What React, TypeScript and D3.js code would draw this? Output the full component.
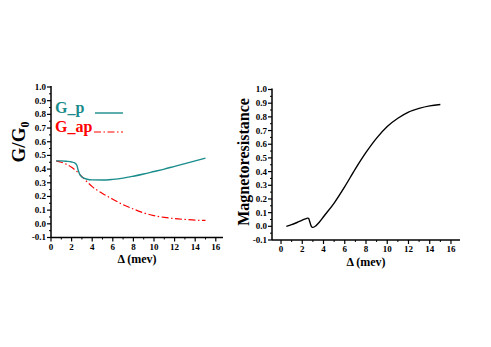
import React from "react";
import * as d3 from "d3";

const gpX = [0.5, 1, 1.5, 2, 2.3, 2.5, 2.65, 2.8, 3, 3.5, 4, 5, 6, 7, 8, 9, 10, 11, 12, 13, 14, 15];
const gpY = [0.46, 0.46, 0.457, 0.452, 0.445, 0.43, 0.39, 0.36, 0.342, 0.326, 0.321, 0.32, 0.325, 0.334, 0.348, 0.364, 0.382, 0.4, 0.42, 0.44, 0.46, 0.48];
const gapX = [0.5, 1, 1.5, 2, 2.5, 3, 3.5, 4, 5, 6, 7, 8, 9, 10, 11, 12, 13, 14, 15];
const gapY = [0.46, 0.45, 0.435, 0.413, 0.383, 0.345, 0.307, 0.272, 0.222, 0.18, 0.14, 0.108, 0.08, 0.06, 0.047, 0.038, 0.032, 0.027, 0.025];
const mrX = [0.5, 1, 1.5, 2, 2.3, 2.5, 2.6, 2.7, 2.8, 2.9, 3, 3.3, 3.6, 4, 5, 6, 7, 8, 9, 10, 11, 12, 13, 14, 15];
const mrY = [0.0, 0.012, 0.028, 0.045, 0.055, 0.06, 0.058, 0.035, 0.01, -0.005, -0.008, 0.005, 0.03, 0.07, 0.17, 0.29, 0.42, 0.54, 0.645, 0.73, 0.79, 0.835, 0.862, 0.88, 0.89];
const xTicks = [0, 2, 4, 6, 8, 10, 12, 14, 16];
const yTicks = [-0.1, 0, 0.1, 0.2, 0.3, 0.4, 0.5, 0.6, 0.7, 0.8, 0.9, 1.0];
const legendLabels = ["G_p", "G_ap"];

const FONT = "'Liberation Serif', 'Times New Roman', serif";

type PanelProps = {
  x0: number; x1: number; y0: number; y1: number; xlabOff: number;
  xDomain: [number, number];
  children: (xs: d3.ScaleLinear<number, number>, ys: d3.ScaleLinear<number, number>) => React.ReactNode;
  yLabel: React.ReactNode;
};

function Panel({ x0, x1, y0, y1, xlabOff, xDomain, children, yLabel }: PanelProps) {
  const xs = d3.scaleLinear().domain(xDomain).range([x0, x1]);
  const ys = d3.scaleLinear().domain([-0.1, 1.0]).range([y1, y0]);
  const xMinor = d3.range(Math.ceil(xDomain[0]), Math.floor(xDomain[1]) + 1).filter((v) => v % 2 !== 0);
  const yMinor = d3.range(-0.05, 1.0, 0.1);
  return (
    <g>
      <line x1={x0} x2={x0} y1={y0 - 1} y2={y1} stroke="#000" strokeWidth={1.5} />
      <line x1={x0} x2={x1} y1={y1} y2={y1} stroke="#000" strokeWidth={1.5} />
      {yTicks.map((t) => (
        <g key={"y" + t}>
          <line x1={x0 - 4} x2={x0} y1={ys(t)} y2={ys(t)} stroke="#000" strokeWidth={1.2} />
          <text x={x0 - 5} y={ys(t)} dy="0.33em" textAnchor="end" fontSize={9} fontWeight="bold" fontFamily={FONT}>
            {d3.format(".1f")(t).replace("−", "-")}
          </text>
        </g>
      ))}
      {yMinor.map((t) => (
        <line key={"ym" + t} x1={x0 - 2} x2={x0} y1={ys(t)} y2={ys(t)} stroke="#000" strokeWidth={1} />
      ))}
      {xTicks.map((t) => (
        <g key={"x" + t}>
          <line x1={xs(t)} x2={xs(t)} y1={y1} y2={y1 + 4} stroke="#000" strokeWidth={1.2} />
          <text x={xs(t)} y={y1 + 12} textAnchor="middle" fontSize={9} fontWeight="bold" fontFamily={FONT}>
            {t}
          </text>
        </g>
      ))}
      {xMinor.map((t) => (
        <line key={"xm" + t} x1={xs(t)} x2={xs(t)} y1={y1} y2={y1 + 2} stroke="#000" strokeWidth={1} />
      ))}
      <text x={(x0 + x1) / 2} y={y1 + xlabOff} textAnchor="middle" fontSize={12} fontWeight="bold" fontFamily={FONT}>
        Δ (mev)
      </text>
      {yLabel}
      {children(xs, ys)}
    </g>
  );
}

export default function App() {
  const line = (xs: any, ys: any, X: number[], Y: number[]) =>
    d3.line<number>().x((_, i) => xs(X[i])).y((_, i) => ys(Y[i])).curve(d3.curveMonotoneX)(X.map((_, i) => i)) || "";
  return (
    <svg width={491} height={347} style={{ position: "absolute", left: 0, top: 0, background: "#fff" }}>
      <Panel x0={51} x1={223} y0={87} y1={237.5} xlabOff={25} xDomain={[0, 16.7]}
        yLabel={
          <text transform="translate(25,142) rotate(-90)" textAnchor="middle" fontSize={19} fontWeight="bold" fontFamily={FONT}>
            G/G<tspan fontSize={12} dy={4}>0</tspan>
          </text>
        }>
        {(xs, ys) => (
          <g>
            <path d={line(xs, ys, gapX, gapY)} fill="none" stroke="#ff0000" strokeWidth={1.2} strokeDasharray="7 2.5 1.5 2.5" />
            <path d={line(xs, ys, gpX, gpY)} fill="none" stroke="#1a8c8c" strokeWidth={1.4} />
            <text x={55} y={113} fontSize={16} fontWeight="bold" fill="#1a8c8c" fontFamily={FONT}>{legendLabels[0]}</text>
            <line x1={95} x2={123} y1={113} y2={113} stroke="#1a8c8c" strokeWidth={1.4} />
            <text x={55} y={132} fontSize={16} fontWeight="bold" fill="#ff0000" fontFamily={FONT}>{legendLabels[1]}</text>
            <line x1={94} x2={123} y1={132} y2={132} stroke="#ff0000" strokeWidth={1.2} strokeDasharray="7 2.5 1.5 2.5" />
          </g>
        )}
      </Panel>
      <Panel x0={272} x1={460} y0={89.5} y1={240} xlabOff={26} xDomain={[-0.85, 16.85]}
        yLabel={
          <text transform="translate(249,162) rotate(-90)" textAnchor="middle" fontSize={16} fontWeight="bold" fontFamily={FONT}>
            Magnetoresistance
          </text>
        }>
        {(xs, ys) => (
          <path d={line(xs, ys, mrX, mrY)} fill="none" stroke="#000" strokeWidth={1.4} />
        )}
      </Panel>
    </svg>
  );
}
